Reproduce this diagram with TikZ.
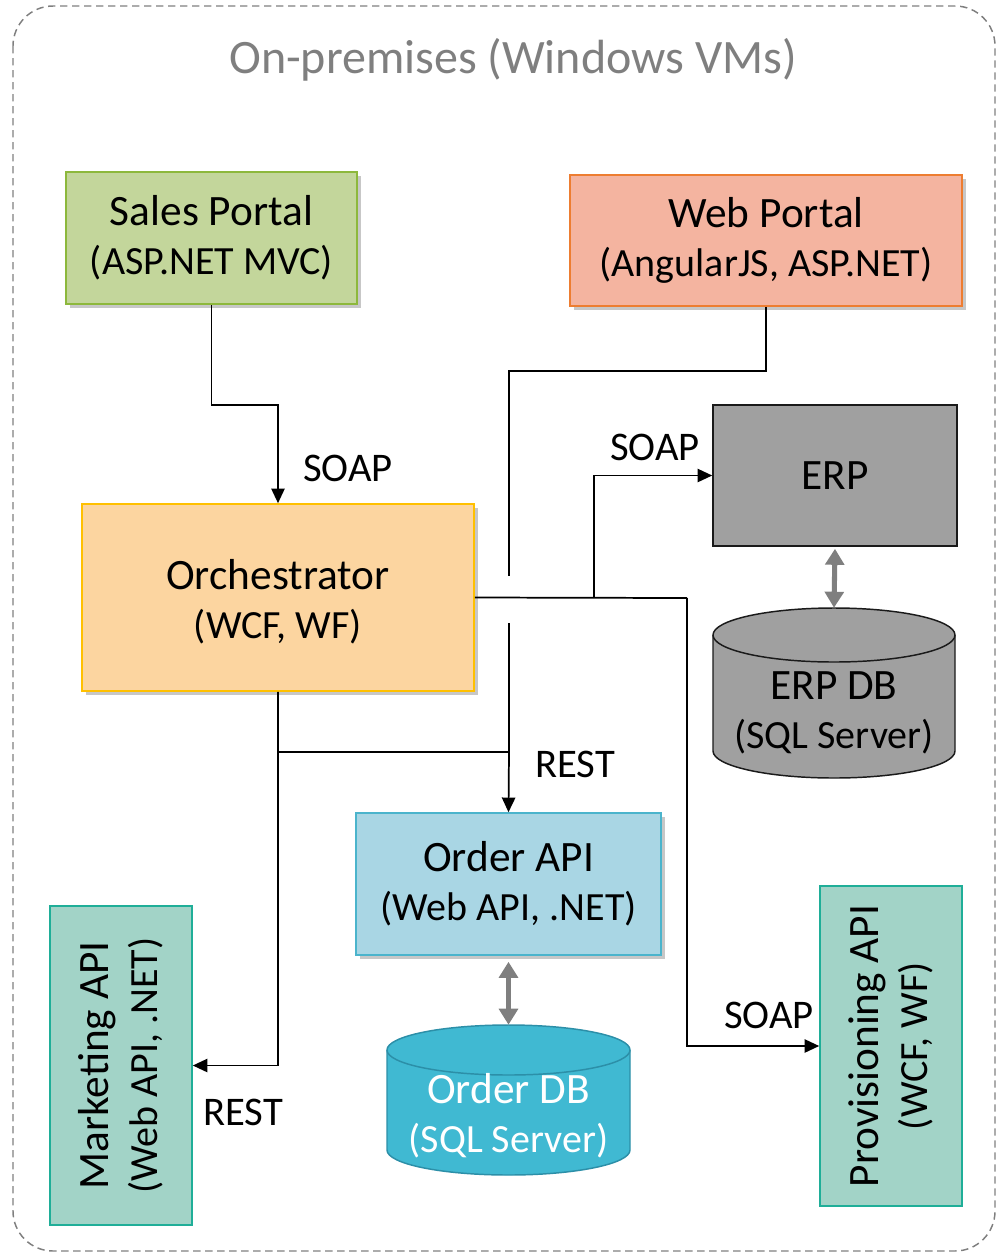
\documentclass[tikz,border=0pt]{standalone}
\usepackage{fontspec}
\setmainfont{Carlito}
\usetikzlibrary{arrows.meta,shadows}
\definecolor{salesF}{HTML}{C3D69B}\definecolor{salesD}{HTML}{8DB83C}
\definecolor{webF}{HTML}{F4B4A0}\definecolor{webD}{HTML}{ED7D31}
\definecolor{orchF}{HTML}{FCD5A0}\definecolor{orchD}{HTML}{FFC000}
\definecolor{erpF}{HTML}{A0A0A0}\definecolor{erpD}{HTML}{1A1A1A}
\definecolor{oapiF}{HTML}{A9D6E4}\definecolor{oapiD}{HTML}{4BB4CC}
\definecolor{apiF}{HTML}{A2D3C7}\definecolor{apiD}{HTML}{1FAE98}
\definecolor{odbF}{HTML}{40B9D2}\definecolor{odbD}{HTML}{2C8FA8}
\definecolor{frameC}{HTML}{7F7F7F}
\newcommand\bigtxt{\fontsize{32.5}{37}\selectfont}
\newcommand\smalltxt{\fontsize{30}{37}\selectfont}
\newcommand\lbltxt{\fontsize{30.5}{36}\selectfont}
\begin{document}
\begin{tikzpicture}[x=0.75pt,y=-0.75pt,
  box/.style={draw, line width=1.2pt, align=center, inner sep=0pt, font=\bigtxt},
  shad/.style={drop shadow={shadow xshift=3pt, shadow yshift=-3pt, opacity=0.22, fill=black}},
  conn/.style={draw=black, line width=1.3pt},
  arr/.style={conn, -{Triangle[length=11pt,width=10pt]}},
  dbl/.style={draw=frameC, line width=3.8pt, {Triangle[length=12pt,width=14pt]}-{Triangle[length=12pt,width=14pt]}},
  lbl/.style={font=\lbltxt, inner sep=0pt},
  hole/.style={inner sep=0pt}]
\useasboundingbox (0,0) rectangle (997,1254);
% frame
\draw[frameC, line width=1.1pt, dash pattern=on 5.5pt off 3.5pt, rounded corners=30pt] (13,6) rectangle (995,1251);
\node[text=frameC, font=\fontsize{36}{40}\selectfont] (title) at (513,60) {On-premises (Windows VMs)};

% boxes
\node[box, shad, fill=salesF, draw=salesD, minimum width=218.25pt, minimum height=99pt] (sales) at (211.5,238) {Sales Portal\\{\smalltxt (ASP.NET MVC)}};
\node[box, shad, fill=webF, draw=webD, minimum width=294pt, minimum height=98.25pt] (web) at (766,240.5) {Web Portal\\{\smalltxt (AngularJS, ASP.NET)}};
\node[box, shad, fill=orchF, draw=orchD, minimum width=294pt, minimum height=140.25pt] (orch) at (278,597.5) {};
\node[align=center, font=\bigtxt, inner sep=0pt] (orchtxt) at (278,602) {Orchestrator\\{\smalltxt (WCF, WF)}};
\node[box, fill=erpF, draw=erpD, minimum width=183pt, minimum height=105.75pt] (erp) at (835,475.5) {ERP};
\node[box, shad, fill=oapiF, draw=oapiD, minimum width=228.75pt, minimum height=106.5pt] (oapi) at (508.5,884) {Order API\\{\smalltxt (Web API, .NET)}};
\node[box, fill=apiF, draw=apiD, minimum width=106.5pt, minimum height=239.25pt] (mkt) at (121,1065.5) {};
\node[rotate=90, align=center, font=\bigtxt, inner sep=0pt] (mkttxt) at (mkt.center) {Marketing API\\{\smalltxt (Web API, .NET)}};
\node[box, fill=apiF, draw=apiD, minimum width=106.5pt, minimum height=240pt] (prov) at (891,1046) {};
\node[rotate=90, align=center, font=\bigtxt, inner sep=0pt] (provtxt) at (prov.center) {Provisioning API\\{\smalltxt (WCF, WF)}};

% ERP DB cylinder
\node[hole, minimum width=181.5pt, minimum height=127.5pt] (erpdb) at (834,693) {};
\path[fill=erpF, draw=erpD, line width=1.1pt] (713,635) -- (713,751) arc[start angle=180,end angle=360,x radius=90.75pt,y radius=20.25pt] -- (955,635) arc[start angle=0,end angle=180,x radius=90.75pt,y radius=20.25pt] -- cycle;
\draw[erpD, line width=1.1pt] (713,635) arc[start angle=180,end angle=360,x radius=90.75pt,y radius=20.25pt];
\node[align=center, font=\bigtxt, inner sep=0pt] (erpdbtxt) at (834,713) {ERP DB\\{\smalltxt (SQL Server)}};

% Order DB cylinder
\node[hole, minimum width=182.25pt, minimum height=112.5pt] (odb) at (508.5,1100) {};
\path[fill=odbF, draw=odbD, line width=1.1pt] (387,1050) -- (387,1150) arc[start angle=180,end angle=360,x radius=91.125pt,y radius=18.75pt] -- (630,1050) arc[start angle=0,end angle=180,x radius=91.125pt,y radius=18.75pt] -- cycle;
\draw[odbD, line width=1.1pt] (387,1050) arc[start angle=180,end angle=360,x radius=91.125pt,y radius=18.75pt];
\node[align=center, font=\bigtxt, text=white, inner sep=0pt] (odbtxt) at (508.5,1116) {Order DB\\{\smalltxt (SQL Server)}};

% db links
\draw[dbl] ([yshift=-1.5pt]erp.south) -- (erpdb.north);
\draw[dbl] ([yshift=-4.5pt]oapi.south) -- (odb.north);

% coordinates
\coordinate (wbend) at (509,371);
\coordinate (wgapA) at (509,576);
\coordinate (wgapB) at (509,623);
\coordinate (jREST) at (509,752);
\coordinate (jERP) at (594,598);
\coordinate (jPROV) at (687,598);

% connectors
\draw[arr] (sales.south) -- ++(0,100) -| (orch.north);
\draw[conn] (web.south) |- (wbend) -- (wgapA);
\draw[conn] (wgapB) -- (jREST);
\draw[conn] (orch.east) -- (jPROV);
\draw[arr] (jERP) |- (erp.west);
\draw[arr] (jPROV) |- (prov.west);
\draw[arr] (orch.south) |- (mkt.east);
\draw[arr] (orch.south) |- (jREST) -- (oapi.north);

% labels
\node[lbl] (l1) at (348,468) {SOAP};
\node[lbl] (l2) at (655,447) {SOAP};
\node[lbl] (l3) at (769,1015) {SOAP};
\node[lbl] (l4) at (575,764) {REST};
\node[lbl] (l5) at (243,1112) {REST};
\end{tikzpicture}
\end{document}
